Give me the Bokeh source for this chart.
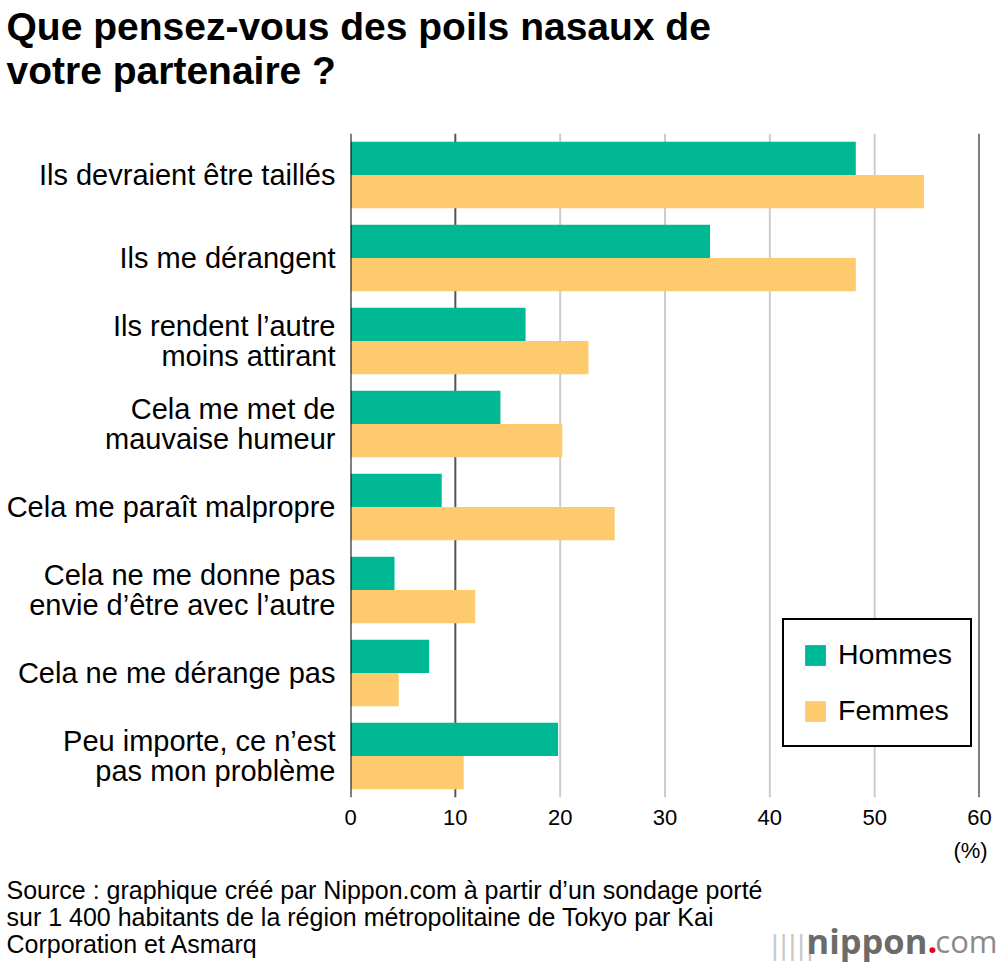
from bokeh.plotting import figure
from bokeh.layouts import column, row
from bokeh.models import (ColumnDataSource, FactorRange, Range1d, Span, Label,
                          FixedTicker)
from bokeh.transform import dodge
from bokeh.embed import file_html
from bokeh.resources import INLINE

categories = [
    "Ils devraient être taillés",
    "Ils me dérangent",
    "Ils rendent l’autre\nmoins attirant",
    "Cela me met de\nmauvaise humeur",
    "Cela me paraît malpropre",
    "Cela ne me donne pas\nenvie d’être avec l’autre",
    "Cela ne me dérange pas",
    "Peu importe, ce n’est\npas mon problème",
]
hommes = [48.2, 34.3, 16.7, 14.3, 8.7, 4.2, 7.5, 19.8]
femmes = [54.7, 48.2, 22.7, 20.2, 25.2, 11.9, 4.6, 10.8]
x_ticks = [0, 10, 20, 30, 40, 50, 60]

title_lines = ["Que pensez-vous des poils nasaux de", "votre partenaire ?"]
source_lines = [
    "Source : graphique créé par Nippon.com à partir d’un sondage porté",
    "sur 1 400 habitants de la région métropolitaine de Tokyo par Kai",
    "Corporation et Asmarq",
]
unit_label = "(%)"

FONT = "Liberation Sans"
TEAL = "#00b894"
YELLOW = "#fdcb6e"
W = 1000
H_TOP, H_MAIN, H_BOT = 120, 710, 134
TOP0, BOT0 = 0, H_TOP + H_MAIN          # canvas y of each strip's top
FL, FR, FT, FB = 350, 979, 133, 797      # main frame edges on the canvas


def text_strip(h):
    f = figure(width=W, height=h, output_backend="svg", toolbar_location=None,
               x_range=Range1d(0, W), y_range=Range1d(h, 0),
               min_border=0, min_border_left=0, min_border_right=0,
               min_border_top=0, min_border_bottom=0)
    f.axis.visible = False
    f.grid.visible = False
    f.outline_line_color = None
    return f


def add_text(f, txt, x, y, size, bold=False, color="#000000", align="left",
             font=FONT):
    f.add_layout(Label(x=x, y=y, text=txt, text_font=font,
                       text_font_size=size,
                       text_font_style="bold" if bold else "normal",
                       text_color=color, text_align=align,
                       text_baseline="middle"))


# ---- title strip
pt = text_strip(H_TOP)
for i, line in enumerate(title_lines):
    add_text(pt, line, 6, 26 + 44 * i - TOP0, "39px", bold=True)

# ---- main chart
src = ColumnDataSource(dict(cat=categories, hommes=hommes, femmes=femmes))

p = figure(width=W, height=H_MAIN, output_backend="svg",
           toolbar_location=None,
           y_range=FactorRange(*list(reversed(categories))),
           x_range=Range1d(0, 60),
           min_border_left=FL, min_border_right=W - FR,
           min_border_top=FT - H_TOP, min_border_bottom=BOT0 - FB)
p.outline_line_color = None
p.xgrid.visible = False
p.ygrid.visible = False

ya = p.yaxis[0]
ya.axis_line_color = None
ya.major_tick_line_color = None
ya.minor_tick_line_color = None
ya.major_label_text_font = FONT
ya.major_label_text_font_size = "29px"
ya.major_label_text_color = "#000000"
ya.major_label_text_line_height = 0.92
ya.major_label_standoff = 9

xa = p.xaxis[0]
xa.ticker = FixedTicker(ticks=x_ticks)
xa.axis_line_color = None
xa.major_tick_line_color = None
xa.minor_tick_line_color = None
xa.major_label_text_font = FONT
xa.major_label_text_font_size = "22px"
xa.major_label_text_color = "#000000"
xa.major_label_standoff = 6

for t in x_ticks:
    if t in (0, 60):
        col, lvl = "#000000", "overlay"
    elif t == 10:
        col, lvl = "#555555", "underlay"
    else:
        col, lvl = "#cccccc", "underlay"
    p.add_layout(Span(location=t, dimension="height", line_color=col,
                      line_width=2, level=lvl))

p.hbar(y=dodge("cat", 0.2, range=p.y_range), right="hommes", left=0,
       height=0.4, source=src, fill_color=TEAL, line_color=None,
       legend_label="Hommes")
p.hbar(y=dodge("cat", -0.2, range=p.y_range), right="femmes", left=0,
       height=0.4, source=src, fill_color=YELLOW, line_color=None,
       legend_label="Femmes")

lg = p.legend[0]
lg.location = (782 - FL, FB - 747)
lg.border_line_color = "#000000"
lg.border_line_width = 2
lg.border_line_alpha = 1
lg.background_fill_color = "#ffffff"
lg.background_fill_alpha = 1
lg.label_text_font = FONT
lg.label_text_font_size = "28.5px"
lg.label_text_color = "#000000"
lg.glyph_width = 26
lg.glyph_height = 26
lg.label_height = 26
lg.label_standoff = 10
lg.spacing = 23
lg.padding = 18
lg.margin = 0

# ---- bottom strip
pb = text_strip(H_BOT)
add_text(pb, unit_label, 970, 850 - BOT0, "22px", align="center")
for i, line in enumerate(source_lines):
    add_text(pb, line, 6, 889 + 27 * i - BOT0, "25px")
add_text(pb, "|||||", 770, 944 - BOT0, "26px", color="#c8c8c8",
         font="DejaVu Sans")
add_text(pb, "nippon", 806, 940 - BOT0, "34.5px", bold=True,
         color="#6b6b6b", font="Open Sans")
add_text(pb, ".", 927, 940 - BOT0, "34.5px", bold=True, color="#e60012",
         font="Open Sans")
add_text(pb, "com", 997, 940 - BOT0, "31px", color="#8a8a8a",
         align="right", font="Open Sans")

layout = column(row(pt), p, row(pb), spacing=0)
open("out.html", "w").write(file_html(layout, INLINE))
